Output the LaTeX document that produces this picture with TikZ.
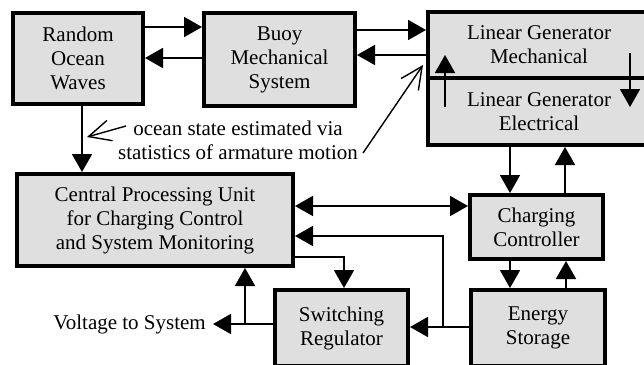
\documentclass[tikz,border=0pt]{standalone}
\usepackage{fontspec}
\setmainfont{Liberation Serif}
\newfontfamily\fa{Liberation Serif}
\usetikzlibrary{arrows.meta}
\definecolor{boxfill}{RGB}{223,223,223}
\begin{document}
\begin{tikzpicture}[x=1pt,y=-1pt,
  box/.style={draw, line width=4pt, fill=boxfill, align=center, inner sep=0pt, font=\fa\fontsize{21}{24}\selectfont},
  conn/.style={line width=1.8pt, -{Triangle[length=18pt,width=20pt]}},
  bidir/.style={line width=1.8pt, {Triangle[length=18pt,width=20pt]}-{Triangle[length=18pt,width=20pt]}},
  plain/.style={line width=1.8pt},
  notearrow/.style={line width=1.4pt, -{Straight Barb[length=22pt,width=21pt]}},
  lbl/.style={font=\fa\fontsize{21}{24}\selectfont, align=center, inner sep=0pt}]
\useasboundingbox (0,0) rectangle (644,364);

\node[box, minimum width=130pt, minimum height=91pt] (ocean) at (78,58.5) {Random\\Ocean\\Waves};
\node[box, minimum width=151pt, minimum height=93pt] (buoy) at (279.5,59.5) {Buoy\\Mechanical\\System};
\node[box, minimum width=222pt, minimum height=66pt] (lgm) at (539,45) {Linear Generator\\Mechanical};
\node[box, minimum width=222pt, minimum height=67pt] (lge) at (539,111.5) {Linear Generator\\Electrical};
\node[box, minimum width=276pt, minimum height=92pt] (cpu) at (155,220) {Central Processing Unit\\for Charging Control\\and System Monitoring};
\node[box, minimum width=133pt, minimum height=64pt] (cc) at (536.5,227) {Charging\\Controller};
\node[box, minimum width=134pt, minimum height=76pt] (es) at (538,328) {Energy\\Storage};
\node[box, minimum width=133pt, minimum height=76pt] (sr) at (341.5,328) {Switching\\Regulator};
\node[lbl, anchor=east] (vts) at (206,324) {Voltage to System};
\node[lbl] (note) at (238,140) {ocean state estimated via\\statistics of armature motion};

\coordinate (lgup1) at (445,107);
\coordinate (lgup2) at (445,55);
\coordinate (lgdn1) at (630,53);
\coordinate (lgdn2) at (630,107);
\coordinate (j1) at (443,327);
\coordinate (j2) at (245,324);
\coordinate (n1a) at (126,126);
\coordinate (n1b) at (87,137);
\coordinate (n2a) at (363,153);
\coordinate (n2b) at (423,65);

\draw[conn] (ocean.east |- 0,27) -- (buoy.west |- 0,27);
\draw[conn] (buoy.west |- 0,58) -- (ocean.east |- 0,58);
\draw[conn] (buoy.east |- 0,30) -- (lgm.west |- 0,30);
\draw[conn] (lgm.west |- 0,55) -- (buoy.east |- 0,55);
\draw[conn] (lgup1) -- (lgup2);
\draw[conn] (lgdn1) -- (lgdn2);
\draw[conn] (lge.south -| 510,0) -- (cc.north -| 510,0);
\draw[conn] (cc.north -| 565,0) -- (lge.south -| 565,0);
\draw[conn] (cc.south -| 510,0) -- (es.north -| 510,0);
\draw[conn] (es.north -| 566,0) -- (cc.south -| 566,0);
\draw[bidir] (cpu.east |- 0,206) -- (cc.west |- 0,206);
\draw[plain] (es.west |- j1) -- (j1);
\draw[conn] (j1) |- (cpu.east |- 0,236);
\draw[conn] (j1) -- (sr.east |- j1);
\draw[conn] (cpu.east |- 0,257) -| (sr.north -| 344,0);
\draw[conn] (sr.west |- j2) -- ([xshift=7pt]vts.east);
\draw[conn] (j2) -- (cpu.south -| j2);
\draw[conn] (ocean.south -| 82,0) -- (cpu.north -| 82,0);
\draw[notearrow] (n1a) -- (n1b);
\draw[notearrow] (n2a) -- (n2b);
\end{tikzpicture}
\end{document}
